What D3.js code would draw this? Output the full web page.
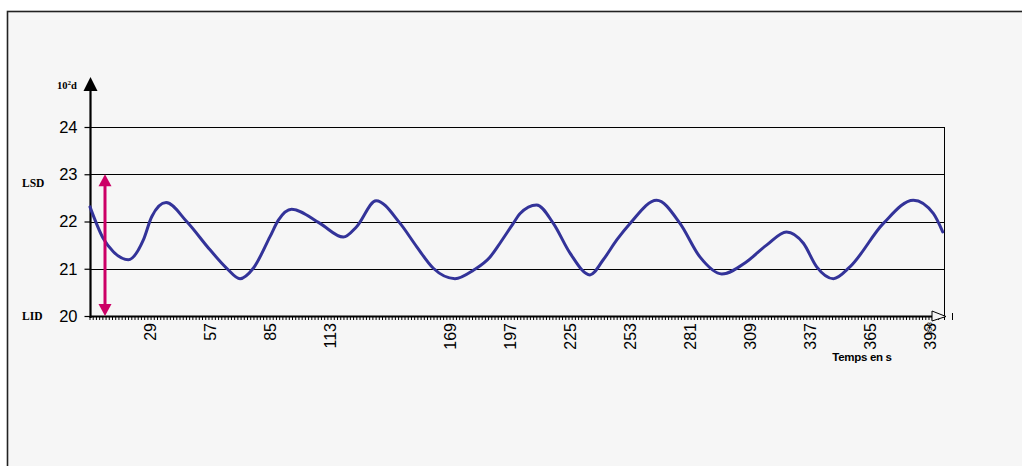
<!DOCTYPE html>
<html>
<head>
<meta charset="utf-8">
<script src="https://cdn.jsdelivr.net/npm/d3@7"></script>
<style>
  html, body { margin: 0; padding: 0; background: #ffffff; }
  svg { display: block; }
</style>
</head>
<body>
<svg id="chart" width="1022" height="466"></svg>
<script>
// ---- data ----
const times = [0, 6.2, 10.9, 17.9, 24.9, 28.8, 35.5, 45.1, 56, 63.8, 70, 76.2, 84, 87.9, 94.1,
  107.3, 118.2, 124.4, 133.5, 144.7, 152.4, 160.2, 170.3, 178.9, 186.7, 191.3, 197.5, 200.7,
  208.4, 216.2, 224, 233.3, 239.5, 245.8, 252, 264.4, 275.3, 284.6, 294.8, 306.4, 315.7, 325,
  332.9, 339.1, 346.9, 354.6, 370.2, 384.2, 393.5, 397.9];
const values = [22.31, 21.64, 21.36, 21.19, 21.61, 22.10, 22.40, 22.0, 21.40, 21.01, 20.79, 21.01, 21.68, 22.03, 22.26,
  21.96, 21.67, 21.89, 22.44, 21.96, 21.47, 21.01, 20.79, 20.97, 21.25, 21.54, 21.96, 22.17,
  22.35, 21.96, 21.33, 20.87, 21.19, 21.61, 21.96, 22.45, 21.96, 21.25, 20.89, 21.15, 21.50, 21.78,
  21.54, 21.04, 20.79, 21.04, 21.96, 22.45, 22.17, 21.78];
const xTickLabels = [29, 57, 85, 113, 169, 197, 225, 253, 281, 309, 337, 365, 393];
const yTickLabels = [20, 21, 22, 23, 24];
const gridValues = [21, 22, 23, 24];
const limits = { LSD: 23, LID: 20 };

// ---- layout ----
const svg = d3.select("#chart");
const x = d3.scaleLinear().domain([0, 398.5]).range([90, 944]);
const y = d3.scaleLinear().domain([20, 24]).range([316, 127]);

// frame
svg.append("rect").attr("x", 7.5).attr("y", 11.5).attr("width", 1030).attr("height", 470)
  .attr("fill", "#f6f6f6").attr("stroke", "#222").attr("stroke-width", 1.6);

// gridlines
svg.append("g").selectAll("line").data(gridValues).join("line")
  .attr("x1", x(0)).attr("x2", x(398.5))
  .attr("y1", d => Math.round(y(d)) + 0.5).attr("y2", d => Math.round(y(d)) + 0.5)
  .attr("stroke", "#000").attr("stroke-width", 1);

// right border of plot
svg.append("line").attr("x1", 944.5).attr("x2", 944.5).attr("y1", y(24)).attr("y2", 320)
  .attr("stroke", "#000").attr("stroke-width", 1);

// y axis
const yAxis = d3.axisLeft(y).tickValues(yTickLabels).tickSize(6).tickPadding(7).tickFormat(d3.format("d"));
const gy = svg.append("g").attr("transform", "translate(90.5,0)").call(yAxis);
gy.select(".domain").remove();
gy.selectAll("text").attr("font-family", "Liberation Sans, Arial, sans-serif")
  .attr("font-size", 16.5).attr("fill", "#000");
gy.selectAll("line").attr("stroke", "#000").attr("stroke-width", 1.2);
svg.append("line").attr("x1", 90.5).attr("x2", 90.5).attr("y1", 88).attr("y2", 318)
  .attr("stroke", "#000").attr("stroke-width", 2.2);
svg.append("path").attr("d", "M90.5,77 L83.5,91 L97.5,91 Z").attr("fill", "#000");

// x axis
svg.append("line").attr("x1", 90).attr("x2", 944).attr("y1", 316.5).attr("y2", 316.5)
  .attr("stroke", "#000").attr("stroke-width", 2);
const minor = d3.range(0, 397, 1.5);
svg.append("g").selectAll("line").data(minor).join("line")
  .attr("x1", d => x(d)).attr("x2", d => x(d)).attr("y1", 317).attr("y2", 320)
  .attr("stroke", "#000").attr("stroke-width", 1);
svg.append("path").attr("d", "M932,311 L946,316.5 L932,321 Z")
  .attr("fill", "#f6f6f6").attr("stroke", "#000").attr("stroke-width", 1);
svg.append("line").attr("x1", 952.5).attr("x2", 952.5).attr("y1", 313).attr("y2", 320)
  .attr("stroke", "#000").attr("stroke-width", 1);

const xAxis = d3.axisBottom(x).tickValues(xTickLabels).tickSize(0).tickFormat(d3.format("d"));
const gx = svg.append("g").attr("transform", "translate(0,316)").call(xAxis);
gx.select(".domain").remove();
gx.selectAll("text")
  .attr("font-family", "Liberation Sans, Arial, sans-serif").attr("font-size", 16).attr("fill", "#000")
  .attr("transform", "rotate(-90)").attr("text-anchor", "end")
  .attr("x", -7).attr("y", 0).attr("dy", "0.22em");
// small overlapping label near the last tick
svg.append("text").attr("transform", `translate(${x(393) - 3},322) rotate(-90)`)
  .attr("text-anchor", "end").attr("dy", "0.35em")
  .attr("font-family", "Liberation Sans, Arial, sans-serif").attr("font-size", 8).text("398");

// axis titles
svg.append("text").attr("x", 862).attr("y", 361).attr("text-anchor", "middle")
  .attr("font-family", "Liberation Sans, Arial, sans-serif").attr("font-weight", "bold")
  .attr("font-size", 11.5).attr("letter-spacing", -0.3).text("Temps en s");
const yt = svg.append("text").attr("x", 57).attr("y", 89)
  .attr("font-family", "Liberation Serif, Times New Roman, serif").attr("font-weight", "bold").attr("font-size", 10.5);
yt.append("tspan").text("10");
yt.append("tspan").attr("font-size", 7).attr("dy", -4).text("2");
yt.append("tspan").attr("dy", 4).text("d");

svg.append("text").attr("x", 22).attr("y", 187).text("LSD")
  .attr("font-family", "Liberation Serif, Times New Roman, serif").attr("font-weight", "bold").attr("font-size", 11.5);
svg.append("text").attr("x", 22).attr("y", 320).text("LID")
  .attr("font-family", "Liberation Serif, Times New Roman, serif").attr("font-weight", "bold").attr("font-size", 11.5);

// curve
const line = d3.line().x((d, i) => x(times[i])).y(d => y(d)).curve(d3.curveMonotoneX);
svg.append("path").datum(values).attr("d", line)
  .attr("fill", "none").attr("stroke", "#333399").attr("stroke-width", 3)
  .attr("stroke-linejoin", "round").attr("stroke-linecap", "round");

// tolerance arrow
const ax = x(7);
const mag = "#cc0066";
svg.append("line").attr("x1", ax).attr("x2", ax).attr("y1", y(limits.LSD) + 10).attr("y2", y(limits.LID) - 10)
  .attr("stroke", mag).attr("stroke-width", 3);
svg.append("path").attr("d", `M${ax},${y(limits.LSD)} L${ax - 6.5},${y(limits.LSD) + 12} L${ax + 6.5},${y(limits.LSD) + 12} Z`).attr("fill", mag);
svg.append("path").attr("d", `M${ax},${y(limits.LID)} L${ax - 6.5},${y(limits.LID) - 12} L${ax + 6.5},${y(limits.LID) - 12} Z`).attr("fill", mag);
</script>
</body>
</html>
